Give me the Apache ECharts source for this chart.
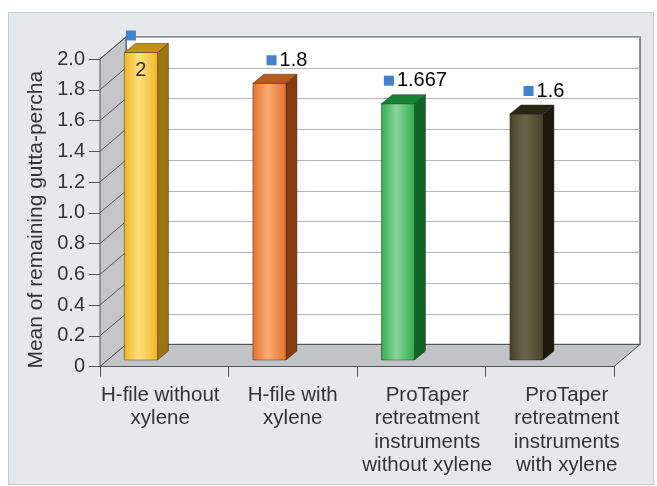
<!DOCTYPE html>
<html>
<head>
<meta charset="utf-8">
<title>Mean of remaining gutta-percha</title>
<script src="https://cdn.jsdelivr.net/npm/echarts@6/dist/echarts.min.js"></script>
<style>
  html, body { margin: 0; padding: 0; background: #ffffff; }
  #chart { width: 657px; height: 486px; }
</style>
</head>
<body>
<div id="chart"></div>
<script>
// Groups compared and their mean remaining gutta-percha scores
const categories = [
  'H-file without\nxylene',
  'H-file with\nxylene',
  'ProTaper\nretreatment\ninstruments\nwithout xylene',
  'ProTaper\nretreatment\ninstruments\nwith xylene'
];
const values = [2, 1.8, 1.667, 1.6];
const valueLabels = ['2', '1.8', '1.667', '1.6'];

// Value axis
const Y_MIN = 0;
const Y_MAX = 2;
const Y_STEP = 0.2;

// Bar face colours: [front edge, front highlight, side, top]
const barColors = [
  ['#f3b423', '#fde17f', '#9d7311', '#c6910f'],
  ['#e6722a', '#f7ab74', '#873b0e', '#b75a1f'],
  ['#2fac4c', '#8bd69b', '#0b6628', '#148336'],
  ['#47412d', '#6c6548', '#1b180c', '#2a2616']
];

// Layout of the pseudo-3D frame
const FONT = '"Liberation Sans", Arial, Helvetica, sans-serif';
const TEXT = '#333333';
const EDGE = '#555555';
const FRONT = { left: 100, top: 59, right: 43, bottom: 119.5 };
const DEPTH = { dx: 26, dy: -22 };          // wall depth offset
const BAR = { shift: -0.31, width: 0.257, planeDy: -6.5, dx: 11, dy: -9 };
const LABEL_SQ = '#4281cb';
const labelShift = [-4, 0, 6, 17];           // horizontal nudge of category labels

function catLabel(value, index) {
  const s = labelShift[index];
  const key = s < 0 ? 'l' + index : 'r' + index;
  return value.split('\n').map(function (line) { return '{' + key + '|' + line + '}'; }).join('\n');
}
const richCats = {};
labelShift.forEach(function (s, i) {
  const base = { fontSize: 20.5, fontFamily: FONT, color: TEXT, lineHeight: 23.5 };
  richCats['l' + i] = Object.assign({}, base, { padding: [0, -2 * s, 0, 0] });
  richCats['r' + i] = Object.assign({}, base, { padding: [0, 0, 0, 2 * s] });
});

// Side wall, floor and their tick lines
function renderFrame(params, api) {
  const band = api.size([1, 0])[0];
  const x0 = api.coord([0, Y_MIN])[0] - band / 2;
  const x1 = api.coord([categories.length - 1, Y_MIN])[0] + band / 2;
  const yBase = api.coord([0, Y_MIN])[1];
  const yTop = api.coord([0, Y_MAX])[1];
  const dx = DEPTH.dx, dy = DEPTH.dy;
  const children = [
    {
      type: 'polygon',
      shape: { points: [[x0, yTop], [x0 + dx, yTop + dy], [x0 + dx, yBase + dy], [x0, yBase]] },
      style: { fill: '#c4c6c9', stroke: EDGE, lineWidth: 1 }
    },
    {
      type: 'polygon',
      shape: { points: [[x0, yBase], [x1, yBase], [x1 + dx, yBase + dy], [x0 + dx, yBase + dy]] },
      style: { fill: '#c2c4c7', stroke: EDGE, lineWidth: 1 }
    }
  ];
  for (let k = 1; k * Y_STEP <= Y_MAX + 1e-9; k++) {
    const y = api.coord([0, k * Y_STEP])[1];
    children.push({
      type: 'line',
      shape: { x1: x0, y1: y, x2: x0 + dx, y2: y + dy },
      style: { stroke: EDGE, lineWidth: 1 }
    });
  }
  return { type: 'group', children: children };
}

// One box-shaped bar with its value label
function renderBar(params, api) {
  const i = api.value(0);
  const v = api.value(1);
  const band = api.size([1, 0])[0];
  const c = api.coord([i, v]);
  const c0 = api.coord([i, Y_MIN]);
  const w = BAR.width * band;
  const left = c[0] + BAR.shift * band;
  const top = c[1] + BAR.planeDy;
  const bottom = c0[1] + BAR.planeDy;
  const dx = BAR.dx, dy = BAR.dy;
  const col = barColors[i];
  const outline = 'rgba(40,30,10,0.55)';
  const children = [
    {
      type: 'polygon',
      shape: { points: [[left + w, top], [left + w + dx, top + dy], [left + w + dx, bottom + dy], [left + w, bottom]] },
      style: { fill: col[2], stroke: outline, lineWidth: 0.8 }
    },
    {
      type: 'rect',
      shape: { x: left, y: top, width: w, height: bottom - top },
      style: {
        fill: new echarts.graphic.LinearGradient(0, 0, 1, 0, [
          { offset: 0, color: col[0] },
          { offset: 0.45, color: col[1] },
          { offset: 1, color: col[0] }
        ]),
        stroke: outline, lineWidth: 0.8
      }
    },
    {
      type: 'polygon',
      shape: { points: [[left, top], [left + dx, top + dy], [left + w + dx, top + dy], [left + w, top]] },
      style: { fill: col[3], stroke: outline, lineWidth: 0.8 }
    }
  ];

  const wallTop = api.coord([i, Y_MAX])[1] + DEPTH.dy;
  const labelY = top + dy - 14;
  if (labelY - 8 < wallTop) {
    // no room above the plot: key sits at the corner, value inside the bar
    children.push({
      type: 'rect',
      shape: { x: left + 1.5, y: top - 22, width: 10, height: 10 },
      style: { fill: LABEL_SQ }
    });
    children.push({
      type: 'text',
      style: {
        x: left + w / 2, y: top + 18, text: valueLabels[i],
        font: '20px ' + FONT, fill: TEXT, align: 'center', verticalAlign: 'middle'
      }
    });
  } else {
    children.push({
      type: 'text',
      style: {
        x: left + (w + dx) / 2 + 12, y: labelY,
        text: '{sq|}{t|' + valueLabels[i] + '}',
        align: 'center', verticalAlign: 'middle',
        rich: {
          sq: { backgroundColor: LABEL_SQ, width: 10, height: 10, padding: 0 },
          t: { fontSize: 20, fontFamily: FONT, color: TEXT, padding: [0, 0, 0, 3] }
        }
      }
    });
  }
  return { type: 'group', children: children };
}

const chart = echarts.init(document.getElementById('chart'), null, { renderer: 'canvas' });

chart.setOption({
  animation: false,
  backgroundColor: '#ffffff',
  graphic: [{
    type: 'rect',
    z: -10,
    silent: true,
    shape: { x: 8.5, y: 12.5, width: 645, height: 472 },
    style: { fill: '#e6e9ec', stroke: '#c3c7cb', lineWidth: 1 }
  }],
  grid: [
    { left: FRONT.left, top: FRONT.top, right: FRONT.right, bottom: FRONT.bottom, containLabel: false },
    {
      left: FRONT.left + DEPTH.dx, top: FRONT.top + DEPTH.dy,
      right: FRONT.right - DEPTH.dx, bottom: FRONT.bottom - DEPTH.dy,
      show: true, backgroundColor: '#ffffff', borderColor: '#6a6a6a', borderWidth: 1.5
    }
  ],
  xAxis: [
    {
      type: 'category', gridIndex: 0, data: categories, boundaryGap: true,
      axisLine: { show: true, lineStyle: { color: EDGE, width: 1 } },
      axisTick: { show: true, length: 10, alignWithLabel: false, lineStyle: { color: EDGE } },
      axisLabel: { interval: 0, margin: 17, formatter: catLabel, rich: richCats },
      splitLine: { show: false }
    },
    { type: 'category', gridIndex: 1, data: categories, show: false }
  ],
  yAxis: [
    {
      type: 'value', gridIndex: 0, min: Y_MIN, max: Y_MAX, interval: Y_STEP,
      name: 'Mean of remaining gutta-percha',
      nameLocation: 'middle', nameGap: 52,
      nameTextStyle: { fontSize: 21, fontFamily: FONT, color: TEXT, padding: [0, 14, 0, 0] },
      axisLine: { show: true, lineStyle: { color: EDGE, width: 1 } },
      axisTick: { show: true, length: 11, lineStyle: { color: EDGE } },
      axisLabel: {
        margin: 15, fontSize: 20, fontFamily: FONT, color: TEXT,
        formatter: function (v) { return v === 0 ? '0' : v.toFixed(1); }
      },
      splitLine: { show: false }
    },
    {
      type: 'value', gridIndex: 1, min: Y_MIN, max: Y_MAX, interval: Y_STEP,
      axisLine: { show: false }, axisTick: { show: false }, axisLabel: { show: false },
      splitLine: { show: true, lineStyle: { color: '#b4b4b4', width: 1.2 } }
    }
  ],
  series: [
    {
      type: 'custom', name: 'frame', xAxisIndex: 0, yAxisIndex: 0, z: 1, silent: true,
      renderItem: renderFrame, data: [[0, 0]]
    },
    {
      type: 'custom', name: 'mean', xAxisIndex: 0, yAxisIndex: 0, z: 3,
      renderItem: renderBar,
      data: values.map(function (v, i) { return [i, v]; })
    }
  ]
});
</script>
</body>
</html>
